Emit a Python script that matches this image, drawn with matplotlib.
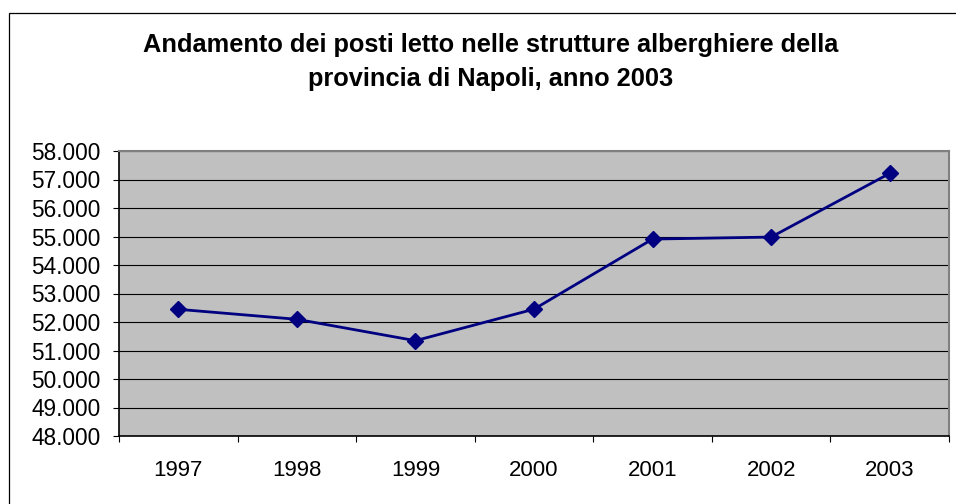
import matplotlib

matplotlib.use("Agg")
import matplotlib.pyplot as plt
from matplotlib.patches import Rectangle
from matplotlib.ticker import FuncFormatter, FixedLocator

years = ["1997", "1998", "1999", "2000", "2001", "2002", "2003"]
posti_letto = [52445, 52095, 51345, 52450, 54910, 54980, 57215]
y_ticks = list(range(48000, 58001, 1000))

title = "Andamento dei posti letto nelle strutture alberghiere della\nprovincia di Napoli, anno 2003"

plt.rcParams["font.family"] = ["Liberation Sans", "DejaVu Sans"]

W, H = 956, 504
fig = plt.figure(figsize=(W / 100, H / 100), dpi=100)

# outer chart frame (cut at right and bottom, as in the reference)
fig.patches.append(
    Rectangle((9 / W, -0.1), 1.2, 1.1 - 13 / H, transform=fig.transFigure, fill=False, edgecolor="black", linewidth=0.9)
)

ax = fig.add_axes([119 / W, 1 - 436 / H, (949 - 119) / W, (436 - 151) / H])
ax.set_facecolor("#C0C0C0")

x = list(range(len(years)))
ax.plot(x, posti_letto, color="#000080", linewidth=2, marker="D", markersize=8, markerfacecolor="#000080", markeredgecolor="#000080")

ax.set_xlim(-0.5, len(years) - 0.5)
ax.set_ylim(48000, 58000)
ax.set_yticks(y_ticks)
ax.yaxis.set_major_formatter(FuncFormatter(lambda v, p: f"{int(v):,}".replace(",", ".")))
ax.yaxis.grid(True, color="black", linewidth=0.8)
ax.set_axisbelow(True)

ax.xaxis.set_major_locator(FixedLocator([i - 0.5 for i in range(len(years) + 1)]))
ax.xaxis.set_major_formatter(FuncFormatter(lambda v, p: ""))
ax.xaxis.set_minor_locator(FixedLocator(x))
ax.set_xticklabels(years, minor=True)
ax.tick_params(axis="x", which="major", length=4.5, width=0.8, direction="out")
ax.tick_params(axis="x", which="minor", length=0, pad=17, labelsize=16)
ax.tick_params(axis="y", length=4.5, width=0.8, direction="out", pad=9, labelsize=16.3)

for side in ["top", "right"]:
    ax.spines[side].set_color("#808080")
    ax.spines[side].set_linewidth(1.5)
for side in ["left", "bottom"]:
    ax.spines[side].set_color("black")
    ax.spines[side].set_linewidth(1.2)

fig.text(491 / W, 1 - 62 / H, title, ha="center", va="center", fontsize=18.3, fontweight="bold", linespacing=1.5)

fig.savefig("out.png", dpi=100)
